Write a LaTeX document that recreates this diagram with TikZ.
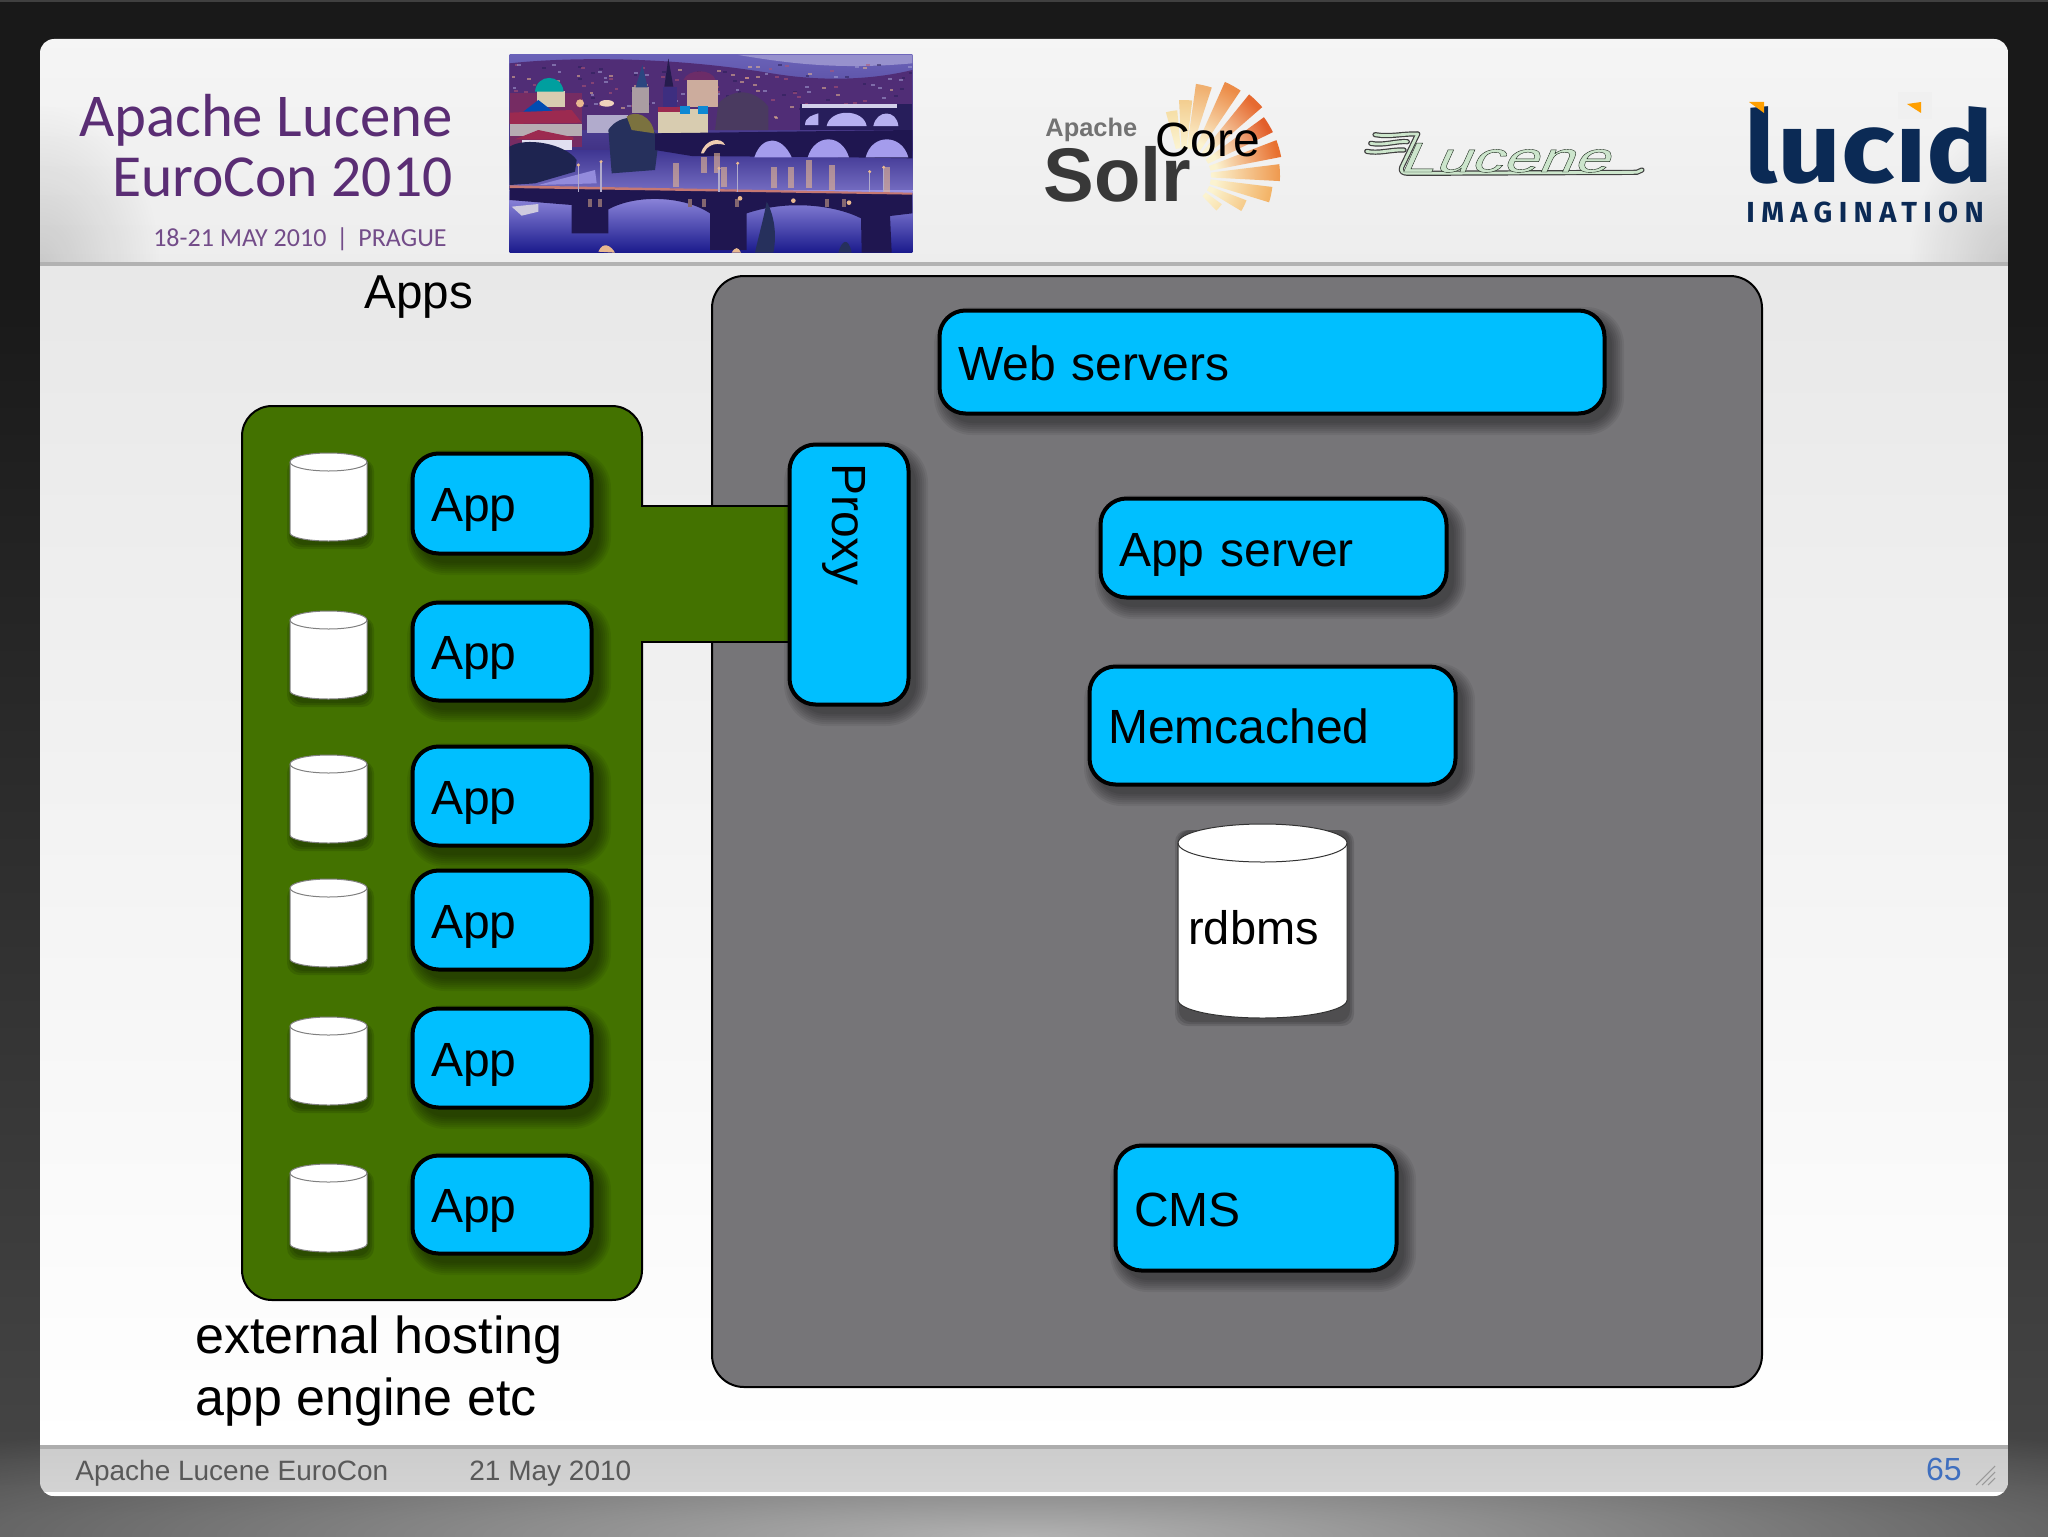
\documentclass[tikz,border=0pt]{standalone}
\usepackage{fontspec}
\setmainfont{Liberation Sans}
\newfontfamily\carl{Carlito}
\newfontfamily\fira{Fira Sans}
\newfontfamily\lucfont[FakeStretch=1.52,FakeSlant=.45,FakeBold=.95]{Liberation Sans}
\usetikzlibrary{fadings}
\tikzfading[name=fuzzy,inner color=transparent!0,outer color=transparent!100]
\definecolor{bluefill}{HTML}{00BFFF}
\definecolor{greenfill}{HTML}{437200}
\definecolor{grayfill}{HTML}{767578}
\definecolor{purp}{HTML}{5A2D74}
\definecolor{navy}{HTML}{0B2A55}
\definecolor{lucgreen}{HTML}{CDE6CC}
\definecolor{skyA}{HTML}{6A62B8}
\definecolor{skyB}{HTML}{3D2E80}
\definecolor{waterA}{HTML}{3F3692}
\definecolor{waterB}{HTML}{1A1A8C}
\definecolor{lav}{HTML}{A49CEC}
\definecolor{bridge}{HTML}{1F1650}
\definecolor{glow}{HTML}{E8B890}
\definecolor{rooft}{HTML}{9C2A50}
\definecolor{cream}{HTML}{D8CCB0}
\definecolor{palesun}{HTML}{FBF3D0}
\definecolor{treeA}{HTML}{1E2450}
\definecolor{treeB}{HTML}{26305C}
\definecolor{treeC}{HTML}{4A3A60}
\definecolor{pagenum}{HTML}{3F6FBF}
\tikzset{
  bluebox/.style={draw=black,line width=2pt,fill=bluefill,rounded corners=13pt,inner xsep=9.3pt,inner ysep=0pt,align=left,font=\fontsize{24}{28}\selectfont,anchor=center,text height=18.4pt,text depth=0pt},
  label/.style={font=\fontsize{23.5}{28}\selectfont,inner sep=0pt},
  cylfill/.style={fill=white,draw=#1,line width=.5pt},
  foot/.style={font=\fontsize{14}{17}\selectfont,text=black!65,inner sep=0pt,anchor=west},
}
\newcommand\softshadow[5]{%
  \foreach \e in {12,10,8,6,4,2,0}{
    \fill[black,opacity=.065,rounded corners=#5*.5pt+\e*.5pt]
      (#1+7-\e,#2+9-\e) rectangle (#3+7+\e,#4+9+\e);
  }}
\newcommand\bbox[6]{%
  \softshadow{#2}{#3}{#4}{#5}{26}
  \pgfmathsetmacro\bw{(#4-#2)*.5-.5}
  \pgfmathsetmacro\bh{(#5-#3)*.5-.5}
  \pgfmathsetmacro\bt{(#4-#2)*.5-.5-18.6}
  \node[bluebox,minimum width=\bw pt,minimum height=\bh pt,text width=\bt pt] (#1) at ({(#2+#4)/2},{(#3+#5)/2}) {#6};}
% name x1 y1 x2 y2 topry botry line text
\newcommand\cyl[9]{%
  \foreach \e in {5,3,1}{
    \fill[black,opacity=.12,rounded corners=6pt] (#2+2-\e,#3+6) rectangle (#4+2+\e,#5+3+\e);
  }
  \pgfmathsetmacro\crx{(#4-#2)/4}
  \pgfmathsetmacro\crt{#6/2}
  \pgfmathsetmacro\crb{#7/2}
  \path[cylfill=#8] (#2,#3+#6) -- (#2,#5-#7) arc[start angle=180,end angle=360,x radius=\crx pt,y radius=\crb pt]
    -- (#4,#3+#6) arc[start angle=0,end angle=180,x radius=\crx pt,y radius=\crt pt] -- cycle;
  \draw[draw=#8,line width=.5pt] (#2,#3+#6) arc[start angle=180,end angle=360,x radius=\crx pt,y radius=\crt pt];
  \node[label] (#1) at ({(#2+#4)/2-9},{(#3+#5)/2+7}) {#9};}
\begin{document}
\begin{tikzpicture}[x=.5pt,y=-.5pt]
\useasboundingbox (0,0) rectangle (2048,1536);
% ---------- backdrop
\fill[black!90] (0,0) rectangle (2048,300);
\shade[top color=black!90,bottom color=black!72] (0,300) rectangle (2048,1536);
\begin{scope}
  \clip (0,1400) rectangle (2048,1536);
  \fill[black!30,path fading=fuzzy] (1024,1536) ellipse[x radius=720pt,y radius=68pt];
\end{scope}
\fill[black!75] (0,0) rectangle (2048,2);
% ---------- slide
\begin{scope}
  \clip[rounded corners=7pt] (40,39) rectangle (2008,1496);
  \shade[top color=black!4,bottom color=black!7] (40,39) rectangle (2008,264);
  \begin{scope}
    \clip (40,39) rectangle (2008,264);
    \fill[black,opacity=.15,path fading=fuzzy] (40,264) ellipse[x radius=60pt,y radius=80pt];
    \fill[black,opacity=.15,path fading=fuzzy] (2008,264) ellipse[x radius=50pt,y radius=70pt];
  \end{scope}
  \fill[black!30] (40,262) rectangle (2008,266);
  \shade[top color=black!9,bottom color=white] (40,266) rectangle (2008,1446);
  \shade[top color=black!20,bottom color=black!17] (40,1446) rectangle (2008,1496);
  \fill[black!32] (40,1445) rectangle (2008,1449);
  \fill[white] (40,1492) rectangle (2008,1496);
\end{scope}
% ---------- header text
\node[inner sep=0pt,anchor=base east,text=purp,font=\carl\fontsize{30.4}{36}\selectfont] (t1) at (453,136) {Apache Lucene};
\node[inner sep=0pt,anchor=base east,text=purp,font=\carl\fontsize{29.8}{36}\selectfont] (t2) at (453,196) {EuroCon 2010};
\node[inner sep=0pt,anchor=base east,text=purp!85,font=\carl\fontsize{13}{14}\selectfont] (t3) at (447,246) {18-21 MAY 2010\hspace{5pt}|\hspace{5pt}PRAGUE};
% ---------- photo (coordinates are 3x px from corner 505,50)
\begin{scope}[shift={(505,50)},x=.16667pt,y=-.16667pt]
  \clip (14,15) rectangle (1222,608);
  \shade[top color=skyA,bottom color=skyB] (14,15) rectangle (1222,330);
  \fill[skyA!70!white] (700,15) .. controls (850,40) and (1000,60) .. (1222,40) -- (1222,15) -- cycle;
  \fill[skyB!80!rooft] (14,40) .. controls (200,20) and (500,20) .. (800,70) .. controls (950,95) and (1100,90) .. (1222,60) -- (1222,240) -- (14,240) -- cycle;
  % city lights
  \pgfmathsetseed{11}
  \foreach \i in {1,...,170}{
    \pgfmathsetmacro\xx{14+rnd*1208}
    \pgfmathsetmacro\yy{40+rnd*170}
    \pgfmathtruncatemacro\cc{mod(\i,4)}
    \ifcase\cc\def\lc{rooft!80!white}\or\def\lc{glow}\or\def\lc{skyA!60!white}\or\def\lc{skyB!70!black}\fi
    \fill[\lc,opacity=.55] (\xx,\yy) rectangle ++(11,6);
  }
  % left buildings
  \fill[rooft!60!skyB] (14,130) rectangle (230,290);
  \fill[cream] (95,122) rectangle (180,172);
  \fill[teal!75!cyan] (90,125) .. controls (95,70) and (170,70) .. (176,125) -- cycle;
  \fill[teal!60!blue] (55,185) -- (100,150) -- (145,185) -- cycle;
  \fill[rooft] (14,188) -- (200,180) -- (230,218) -- (14,222) -- cycle;
  \fill[cream!70!skyA] (14,222) rectangle (230,258);
  \fill[rooft] (30,268) -- (100,240) -- (205,262) -- (205,270) -- cycle;
  \fill[white!80!skyA] (50,270) rectangle (200,300);
  \fill[glow] (225,160) circle[radius=12];
  \fill[glow!60!white] (305,160) ellipse[x radius=22,y radius=10];
  % towers and central buildings
  \fill[cream!70!skyB] (380,112) rectangle (432,190);
  \fill[skyB!70!teal] (392,112) -- (412,45) -- (428,112) -- cycle;
  \fill[skyB] (473,110) rectangle (515,170);
  \fill[skyB!60!black] (478,110) -- (490,25) -- (505,110) -- cycle;
  \fill[rooft!50!skyB] (535,90) .. controls (550,55) and (620,55) .. (632,90) -- cycle;
  \fill[cream!80!rooft] (545,90) rectangle (640,170);
  \fill[cream] (458,178) rectangle (610,248);
  \fill[rooft] (458,170) rectangle (525,186);
  \fill[cyan!70!blue] (525,168) rectangle (556,192);
  \fill[cyan!70!blue] (580,168) rectangle (610,192);
  \fill[white!60!skyB] (245,195) rectangle (370,250);
  \fill[treeC] (640,160) .. controls (690,110) and (750,120) .. (790,170) -- (790,240) -- (630,240) -- cycle;
  % water
  \shade[top color=waterA,bottom color=skyA!85!lav] (14,300) rectangle (1222,420);
  \shade[top color=lav!85!skyA,bottom color=waterB] (14,420) rectangle (1222,608);
  % trees
  \fill[treeA] (14,290) .. controls (60,260) and (180,280) .. (215,330) -- (210,365) -- (90,400) -- (14,405) -- cycle;
  \fill[treeB] (310,240) .. controls (340,190) and (440,180) .. (460,280) -- (450,360) -- (320,370) -- cycle;
  \fill[olive!50!treeC] (365,200) .. controls (390,180) and (440,195) .. (448,250) -- (380,240) -- cycle;
  \fill[lav!70!skyA] (100,405) -- (270,360) -- (275,400) -- cycle;
  % far bridge
  \fill[bridge!90!skyA] (885,162) rectangle (1222,240);
  \fill[white!70!skyA] (890,162) rectangle (1175,175);
  \fill[lav!80!white] (900,225) .. controls (900,200) and (925,195) .. (940,190) -- (940,225) -- cycle;
  \fill[lav!80!white] (965,228) .. controls (975,175) and (1075,175) .. (1085,228) -- cycle;
  \fill[lav!80!white] (1105,228) .. controls (1115,178) and (1175,178) .. (1180,228) -- cycle;
  % middle bridge
  \fill[bridge] (450,250) -- (1222,240) -- (1222,325) -- (1030,322) -- (560,318) -- (450,300) -- cycle;
  \fill[lav] (748,322) .. controls (770,255) and (830,255) .. (860,322) -- cycle;
  \fill[lav] (908,322) .. controls (930,250) and (1010,250) .. (1032,322) -- cycle;
  \fill[lav] (1082,322) .. controls (1100,250) and (1190,250) .. (1210,322) -- cycle;
  \fill[glow!70!white] (588,310) .. controls (600,265) and (650,260) .. (660,285) .. controls (625,275) and (605,290) .. (596,310) -- cycle;
  % reflections
  \foreach \rx/\ry/\rh in {512/340/70,597/320/50,637/310/60,658/350/60,808/350/65,858/350/65,912/330/85,980/345/75,1145/350/80}{
    \fill[glow,opacity=.6] (\rx-9,\ry) rectangle (\rx+9,\ry+\rh);
  }
  % front bridge
  \fill[bridge] (14,408) -- (1222,430) -- (1222,490) -- (1155,498) -- (1160,608) -- (1070,608) -- (1068,505)
     .. controls (1000,470) and (860,445) .. (725,490) -- (725,600) -- (615,600) -- (615,490)
     .. controls (540,440) and (400,430) .. (310,478) -- (310,550) -- (200,550) -- (200,465) -- (14,450) -- cycle;
  \fill[rooft!45!glow] (14,406) -- (1222,428) -- (1222,434) -- (14,414) -- cycle;
  \foreach \gx in {250,280,550,590,690,960,1010}{
    \fill[glow!50!bridge] (\gx,448) rectangle (\gx+12,470);
  }
  \foreach \gx/\gy in {705/445,865/452,1032/458}{
    \fill[glow] (\gx,\gy) circle[radius=7];
  }
  % lamp posts
  \foreach \lx/\ly in {220/345,288/335,642/355,698/340,1094/365,1136/352}{
    \draw[white!60!skyB,line width=.6pt] (\lx,\ly) -- (\lx,425);
    \fill[glow] (\lx,\ly) circle[radius=5];
  }
  % bottom items
  \fill[treeB] (785,455) .. controls (810,500) and (815,560) .. (805,608) -- (750,608) .. controls (760,560) and (775,510) .. (785,455) -- cycle;
  \fill[treeB] (1000,608) .. controls (1010,570) and (1030,560) .. (1040,608) -- cycle;
  \fill[glow] (280,605) .. controls (295,570) and (320,590) .. (330,608) -- cycle;
  \fill[glow] (680,608) .. controls (690,590) and (700,590) .. (708,608) -- cycle;
  \fill[white!75!skyB] (20,470) -- (100,462) -- (100,485) -- (50,497) -- cycle;
\end{scope}
% ---------- Solr logo
\foreach \a/\r/\c in {100/66/F6DFA8,88/76/F3CE90,77/93/F0B070,61/103/EC8C48,46/105/E66A30,31/100/E25E2A,16/100/E8702F,2/97/EF9A50,-12/90/F3B468,-26/68/F6CC8C,-41/48/F9E2B0}{
  \pgfmathsetmacro\sa{\a-5}
  \pgfmathsetmacro\sb{\a+5}
  \pgfmathsetmacro\sh{\a-90}
  \definecolor{sunc}{HTML}{\c}
  \shade[top color=sunc,bottom color=palesun,shading angle=\sh]
    ([shift={(\sa:14pt)}]1183,176) -- ([shift={(\sa:\r*.5pt)}]1183,176) arc[start angle=\sa,end angle=\sb,radius=\r*.5pt] -- ([shift={(\sb:14pt)}]1183,176) -- cycle;
}
\node[inner sep=0pt,anchor=base west,text=black!55,font=\fontsize{12.7}{14}\bfseries\selectfont] (apache) at (1045,136) {Apache};
\node[inner sep=0pt,anchor=base west,text=black!78,font=\fontsize{38}{40}\bfseries\selectfont] (solr) at (1043,201) {Solr};
% ---------- Lucene logo
\begin{scope}[shift={(1350,110)},x=.16667pt,y=-.16667pt]
  \foreach \w/\cc in {2.6pt/black!75,1.4pt/lucgreen}{
    \draw[line width=\w,\cc,line cap=round,line join=round]
      (75,74) .. controls (120,82) and (160,70) .. (203,72);
    \draw[line width=\w,\cc,line cap=round,line join=round]
      (62,100) .. controls (100,108) and (140,92) .. (172,95);
    \draw[line width=\w,\cc,line cap=round,line join=round]
      (50,124) .. controls (85,132) and (125,118) .. (162,120);
    \draw[line width=\w,\cc,line cap=round,line join=round]
      (203,72) -- (155,172) .. controls (150,185) and (160,190) .. (175,190) -- (860,187) -- (876,180);
  }
\end{scope}
\node[inner sep=0pt,anchor=base west,font=\fontsize{21}{24}\selectfont] (lucene) at (1398,172)
  {\special{pdf:bcolor [0.80 0.90 0.80] [0.1 0.15 0.1]}\lucfont Lucene\special{pdf:ecolor}};
% ---------- lucid logo
\node[inner sep=0pt,anchor=base west,text=navy,font=\fira\bfseries\fontsize{50}{56}\selectfont] (lucid) at (1744,182) {\scalebox{1.12}[1]{lucid}};
\fill[black!6] (1898,92) rectangle (1932,119);
\fill[orange!75!yellow] (1749,102) -- (1764,102) -- (1764,113) -- cycle;
\fill[orange!75!yellow] (1921,102) -- (1921,113) -- (1907,104) -- cycle;
\node[inner sep=0pt,anchor=base west,text=navy,font=\fira\bfseries\fontsize{14.5}{16}\selectfont] (imag) at (1746,222) {\addfontfeature{LetterSpace=22}IMAGINATION};
% ---------- Core / Apps
\node[label,font=\fontsize{24}{28}\selectfont] (core) at (1208,140) {Core};
\node[label,font=\fontsize{23.8}{28}\selectfont] (apps) at (419,297) {Apps};
% ---------- grey box and green box
\draw[fill=grayfill,draw=black,line width=1pt,rounded corners=16pt] (712,276) rectangle (1762,1387);
\draw[fill=greenfill,draw=black,line width=1pt,rounded corners=15pt] (242,406) rectangle (642,1300);
\coordinate (bandNW) at (642,506);
\coordinate (bandNE) at (789,506);
\coordinate (bandSW) at (642,642);
\coordinate (bandSE) at (789,642);
\fill[greenfill] (bandNW) rectangle (bandSE);
\draw[black,line width=1pt] (bandNW) -- (bandNE);
\draw[black,line width=1pt] (bandSW) -- (bandSE);
\fill[greenfill] (640,507) rectangle (644,641);
% ---------- app column
\bbox{a1}{412}{453}{592}{554}{App}
\bbox{a2}{412}{602}{592}{701}{App}
\bbox{a3}{412}{746}{592}{846}{App}
\bbox{a4}{412}{870}{592}{970}{App}
\bbox{a5}{412}{1008}{592}{1108}{App}
\bbox{a6}{412}{1155}{592}{1254}{App}
\cyl{c1}{290}{453}{367}{541}{9}{8}{black!50}{}
\cyl{c2}{290}{611}{367}{699}{9}{8}{black!50}{}
\cyl{c3}{290}{755}{367}{843}{9}{8}{black!50}{}
\cyl{c4}{290}{879}{367}{967}{9}{8}{black!50}{}
\cyl{c5}{290}{1017}{367}{1105}{9}{8}{black!50}{}
\cyl{c6}{290}{1164}{367}{1252}{9}{8}{black!50}{}
% ---------- right column
\bbox{web}{939}{310}{1605}{414}{Web servers}
\bbox{appsrv}{1100}{498}{1447}{598}{App server}
\bbox{mem}{1089}{666}{1456}{785}{Memcached}
\bbox{cms}{1115}{1145}{1397}{1271}{CMS}
\cyl{rdb}{1178}{824}{1347}{1018}{19}{18}{black!80}{rdbms}
% ---------- Proxy
\softshadow{789}{444}{909}{705}{30}
\node[bluebox,rotate=-90,minimum width=130pt,minimum height=59.5pt,text width=111.4pt,text height=16.4pt] (proxy) at (849,574.5) {Proxy};
% ---------- bottom labels
\node[inner sep=0pt,anchor=west,align=left,font=\fontsize{26}{31}\selectfont] (hosting) at (195,1371) {external hosting\\app engine etc};
% ---------- footer
\node[foot] (f1) at (75,1473) {Apache Lucene EuroCon};
\node[foot] (f2) at (469,1474) {21 May 2010};
\node[inner sep=0pt,anchor=east,text=pagenum,font=\fontsize{16}{18}\selectfont] (page) at (1962,1469) {65};
\foreach \d in {0,6,12}{
  \draw[black!40,line width=.5pt] (1976+\d,1485) -- (1995,1466+\d);
}
\end{tikzpicture}
\end{document}
